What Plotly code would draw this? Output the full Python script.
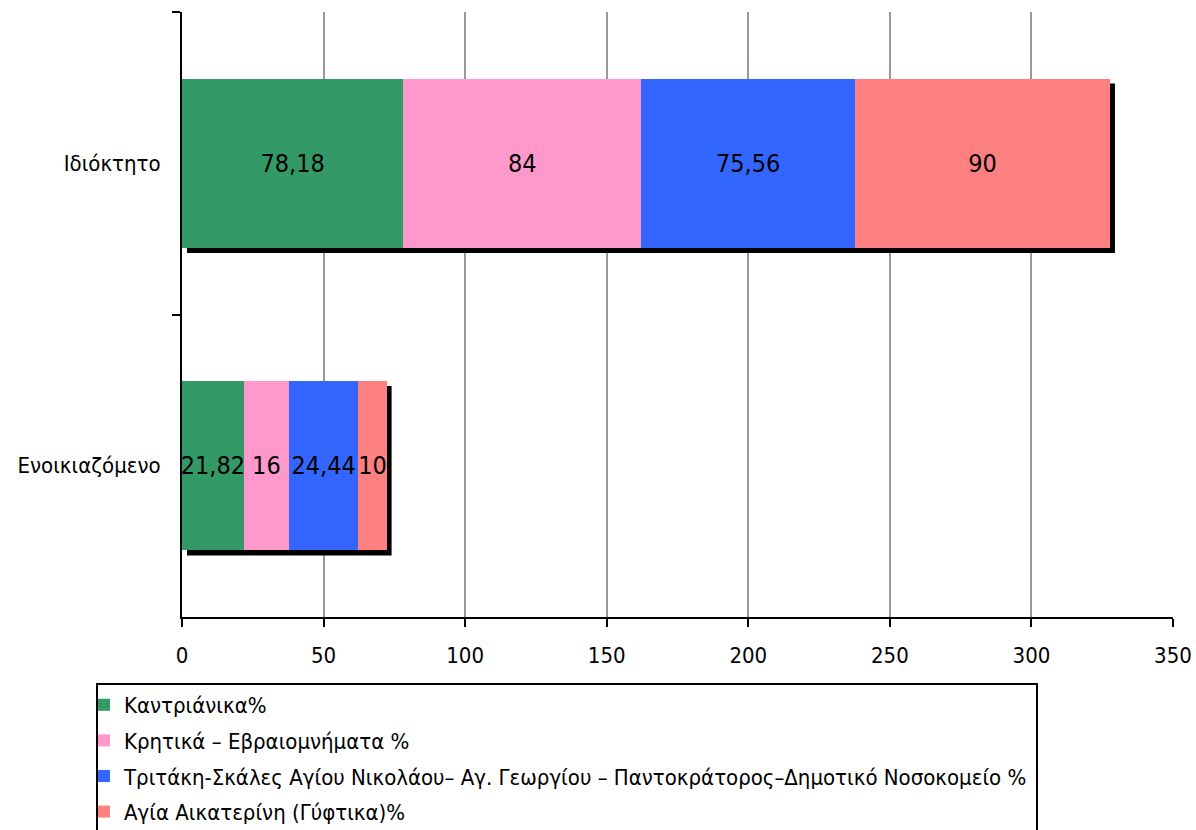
import plotly.graph_objects as go

categories = ["Ιδιόκτητο", "Ενοικιαζόμενο"]
series_names = [
    "Καντριάνικα%",
    "Κρητικά – Εβραιομνήματα %",
    "Τριτάκη-Σκάλες Αγίου Νικολάου– Αγ. Γεωργίου – Παντοκράτορος–Δημοτικό Νοσοκομείο %",
    "Αγία Αικατερίνη (Γύφτικα)%",
]
kantrianika = [78.18, 21.82]
kritika = [84, 16]
tritaki = [75.56, 24.44]
agia_aikaterini = [90, 10]
series_values = [kantrianika, kritika, tritaki, agia_aikaterini]
colors = ["#339966", "#FF99CC", "#3366FF", "#FF8080"]
x_ticks = [0, 50, 100, 150, 200, 250, 300, 350]

FONT = "DejaVu Sans Condensed, DejaVu Sans, sans-serif"

fig = go.Figure()
for i, (name, vals) in enumerate(zip(series_names, series_values)):
    fig.add_trace(go.Bar(
        y=categories, x=vals, name=name, orientation="h",
        marker=dict(color=colors[i], line=dict(width=0)),
        texttemplate="%{x}", textposition="inside", insidetextanchor="middle",
        textangle=0, constraintext="none", cliponaxis=False,
        textfont=dict(family=FONT, size=25, color="black"),
        legendgroup="g%d" % i,
    ))

W, H = 1196, 830
ml, mr, mt, mb = 182, 23, 12, 213
plot_w, plot_h = W - ml - mr, H - mt - mb
xmax = 350
dx = 5 * xmax / plot_w
dy = 5 * len(categories) / plot_h
half = (1 - 0.44) / 2
totals = [sum(v[j] for v in series_values) for j in range(len(categories))]
for j, tot in enumerate(totals):
    fig.add_shape(type="rect", xref="x", yref="y", layer="between",
                  x0=dx, x1=tot + dx, y0=j - half + dy, y1=j + half + dy,
                  fillcolor="black", line=dict(width=0))

# legend frame
def px_x(p):
    return (p - ml) / plot_w

def px_y(p):
    return (H - mb - p) / plot_h

fig.add_shape(type="rect", xref="paper", yref="paper",
              x0=px_x(97), x1=px_x(1037), y0=px_y(684), y1=px_y(834),
              line=dict(color="black", width=2), fillcolor="rgba(0,0,0,0)")

fig.update_layout(
    width=W, height=H,
    margin=dict(l=ml, r=mr, t=mt, b=mb, autoexpand=False),
    barmode="stack", bargap=0.44,
    plot_bgcolor="white", paper_bgcolor="white",
    separators=",.",
    font=dict(family=FONT, size=22, color="black"),
    legend=dict(
        x=px_x(84), xanchor="left",
        y=px_y(684), yanchor="top",
        traceorder="grouped", tracegroupgap=4,
        borderwidth=0, bgcolor="rgba(0,0,0,0)",
        font=dict(family=FONT, size=22, color="black"),
    ),
    xaxis=dict(
        range=[0, xmax], tickvals=x_ticks, ticktext=[str(t) for t in x_ticks],
        showgrid=True, gridcolor="#999999", gridwidth=2,
        showline=True, linecolor="black", linewidth=2,
        ticks="outside", ticklen=8, tickwidth=2, tickcolor="black",
        ticklabelstandoff=10, zeroline=False,
        tickfont=dict(family=FONT, size=22, color="black"),
    ),
    yaxis=dict(
        autorange="reversed", showgrid=False,
        showline=True, linecolor="black", linewidth=2,
        ticks="outside", ticklen=8, tickwidth=2, tickcolor="black",
        tickson="boundaries", ticklabelstandoff=15,
        tickfont=dict(family=FONT, size=22, color="black"),
    ),
)

fig.write_html("out.html", config={"displayModeBar": False},
               post_script="document.body.style.margin='0';")
